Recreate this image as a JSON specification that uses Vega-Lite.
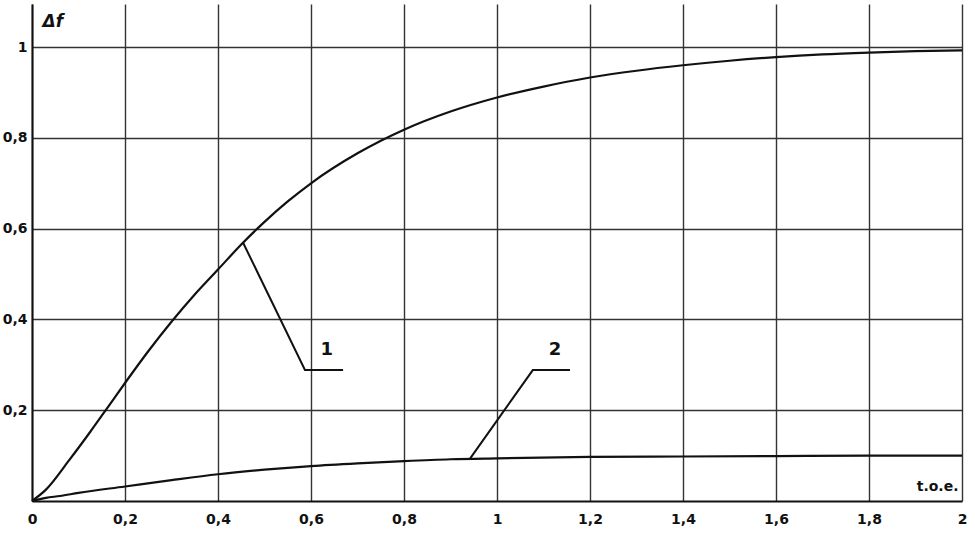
{
  "$schema": "https://vega.github.io/schema/vega-lite/v6.json",
  "autosize": "none",
  "width": 930,
  "height": 497,
  "padding": {"left": 32, "top": 4, "right": 13, "bottom": 36},
  "background": "white",
  "config": {
    "view": {"stroke": null},
    "font": "DejaVu Sans"
  },
  "datasets": {
    "curves": [
      {"curve": "1", "x": 0, "y": 0},
      {"curve": "1", "x": 0.03, "y": 0.025},
      {"curve": "1", "x": 0.08, "y": 0.09},
      {"curve": "1", "x": 0.125, "y": 0.152},
      {"curve": "1", "x": 0.164, "y": 0.208},
      {"curve": "1", "x": 0.2, "y": 0.26},
      {"curve": "1", "x": 0.25, "y": 0.33},
      {"curve": "1", "x": 0.3, "y": 0.395},
      {"curve": "1", "x": 0.35, "y": 0.455},
      {"curve": "1", "x": 0.4, "y": 0.51},
      {"curve": "1", "x": 0.45, "y": 0.565},
      {"curve": "1", "x": 0.5, "y": 0.615},
      {"curve": "1", "x": 0.55, "y": 0.66},
      {"curve": "1", "x": 0.6, "y": 0.7},
      {"curve": "1", "x": 0.7, "y": 0.766},
      {"curve": "1", "x": 0.8, "y": 0.818},
      {"curve": "1", "x": 0.9, "y": 0.858},
      {"curve": "1", "x": 1.0, "y": 0.889},
      {"curve": "1", "x": 1.1, "y": 0.913},
      {"curve": "1", "x": 1.2, "y": 0.933},
      {"curve": "1", "x": 1.3, "y": 0.948},
      {"curve": "1", "x": 1.4, "y": 0.96},
      {"curve": "1", "x": 1.5, "y": 0.97},
      {"curve": "1", "x": 1.6, "y": 0.978},
      {"curve": "1", "x": 1.7, "y": 0.984},
      {"curve": "1", "x": 1.8, "y": 0.988},
      {"curve": "1", "x": 1.9, "y": 0.991},
      {"curve": "1", "x": 2.0, "y": 0.993},
      {"curve": "2", "x": 0, "y": 0},
      {"curve": "2", "x": 0.03, "y": 0.007},
      {"curve": "2", "x": 0.06, "y": 0.011},
      {"curve": "2", "x": 0.1, "y": 0.018},
      {"curve": "2", "x": 0.2, "y": 0.032},
      {"curve": "2", "x": 0.3, "y": 0.046},
      {"curve": "2", "x": 0.4, "y": 0.059},
      {"curve": "2", "x": 0.5, "y": 0.069},
      {"curve": "2", "x": 0.6, "y": 0.077},
      {"curve": "2", "x": 0.7, "y": 0.083},
      {"curve": "2", "x": 0.8, "y": 0.088},
      {"curve": "2", "x": 0.9, "y": 0.092},
      {"curve": "2", "x": 1.0, "y": 0.094},
      {"curve": "2", "x": 1.2, "y": 0.097},
      {"curve": "2", "x": 1.4, "y": 0.098},
      {"curve": "2", "x": 1.6, "y": 0.099},
      {"curve": "2", "x": 1.8, "y": 0.1},
      {"curve": "2", "x": 2.0, "y": 0.1}
    ],
    "leaders": [
      {"leader": "1", "order": 1, "x": 0.454, "y": 0.569},
      {"leader": "1", "order": 2, "x": 0.587, "y": 0.2885},
      {"leader": "1", "order": 3, "x": 0.669, "y": 0.2885},
      {"leader": "2", "order": 1, "x": 0.942, "y": 0.0935},
      {"leader": "2", "order": 2, "x": 1.077, "y": 0.2885},
      {"leader": "2", "order": 3, "x": 1.157, "y": 0.2885}
    ],
    "labels": [
      {"label": "1", "x": 0.634, "y": 0.333},
      {"label": "2", "x": 1.125, "y": 0.333}
    ]
  },
  "encoding": {
    "x": {
      "field": "x",
      "type": "quantitative",
      "scale": {"domain": [0, 2], "nice": false, "zero": false},
      "axis": {
        "values": [0, 0.2, 0.4, 0.6, 0.8, 1, 1.2, 1.4, 1.6, 1.8, 2],
        "labelExpr": "datum.value == 0 ? '0' : replace(format(datum.value, '~g'), '.', ',')",
        "grid": true,
        "gridColor": "#333333",
        "gridWidth": 1.4,
        "gridOpacity": 1,
        "ticks": false,
        "domain": true,
        "domainColor": "#111111",
        "domainWidth": 2,
        "labelFont": "DejaVu Sans",
        "labelFontWeight": "bold",
        "labelFontSize": 14,
        "labelColor": "#111111",
        "labelPadding": 11,
        "labelFlush": false,
        "title": "t.o.e.",
        "titleFont": "DejaVu Sans",
        "titleFontWeight": "bold",
        "titleFontSize": 14,
        "titleColor": "#111111",
        "titleAlign": "right",
        "titleBaseline": "middle",
        "titleX": 926,
        "titleY": -15,
        "titleAngle": 0
      }
    },
    "y": {
      "field": "y",
      "type": "quantitative",
      "scale": {"domain": [0, 1.095], "nice": false, "zero": true},
      "axis": {
        "values": [0.2, 0.4, 0.6, 0.8, 1],
        "labelExpr": "replace(format(datum.value, '~g'), '.', ',')",
        "grid": true,
        "gridColor": "#333333",
        "gridWidth": 1.4,
        "gridOpacity": 1,
        "ticks": false,
        "domain": true,
        "domainColor": "#111111",
        "domainWidth": 2,
        "labelFont": "DejaVu Sans",
        "labelFontWeight": "bold",
        "labelFontSize": 14,
        "labelColor": "#111111",
        "labelPadding": 5,
        "title": "Δf",
        "titleFont": "DejaVu Sans",
        "titleFontWeight": "bold",
        "titleFontStyle": "italic",
        "titleFontSize": 17,
        "titleColor": "#111111",
        "titleAngle": 0,
        "titleAlign": "left",
        "titleBaseline": "middle",
        "titleX": 10,
        "titleY": 17
      }
    }
  },
  "layer": [
    {
      "data": {"name": "curves"},
      "mark": {"type": "line", "color": "#111111", "strokeWidth": 2.2, "interpolate": "monotone"},
      "encoding": {"detail": {"field": "curve", "type": "nominal"}}
    },
    {
      "data": {"name": "leaders"},
      "mark": {"type": "line", "color": "#111111", "strokeWidth": 2},
      "encoding": {
        "detail": {"field": "leader", "type": "nominal"},
        "order": {"field": "order", "type": "quantitative"}
      }
    },
    {
      "data": {"name": "labels"},
      "mark": {"type": "text", "font": "DejaVu Sans", "fontWeight": "bold", "fontSize": 18, "color": "#111111", "align": "center", "baseline": "middle"},
      "encoding": {"text": {"field": "label", "type": "nominal"}}
    }
  ]
}
